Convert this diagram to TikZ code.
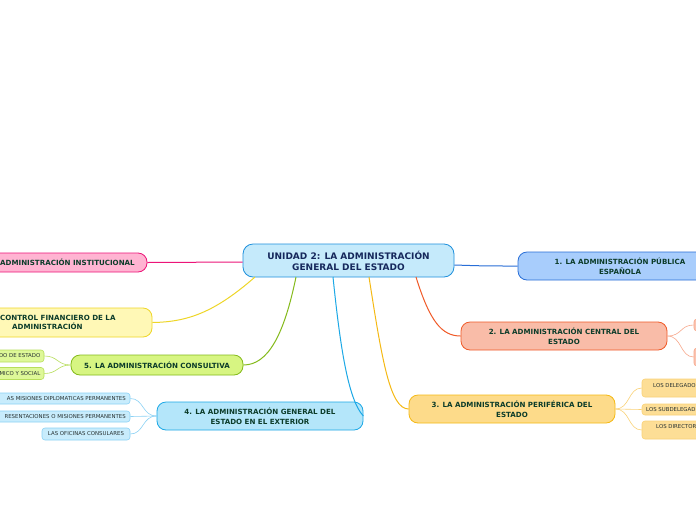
\documentclass[tikz,border=0pt]{standalone}
\usepackage{fontspec}
\setmainfont{DejaVu Sans}
\definecolor{cenfill}{RGB}{197,234,251}
\definecolor{cendraw}{RGB}{30,144,220}
\definecolor{centext}{RGB}{22,40,92}
\definecolor{btext}{RGB}{12,60,42}
\definecolor{stext}{RGB}{40,50,50}
\definecolor{pinkfill}{RGB}{255,180,210}
\definecolor{pinkdraw}{RGB}{236,20,120}
\definecolor{yelfill}{RGB}{255,248,182}
\definecolor{yeldraw}{RGB}{238,214,40}
\definecolor{grnfill}{RGB}{215,245,130}
\definecolor{grndraw}{RGB}{132,186,26}
\definecolor{grnsfill}{RGB}{222,248,152}
\definecolor{grnsdraw}{RGB}{184,222,92}
\definecolor{bl4fill}{RGB}{180,230,250}
\definecolor{bl4draw}{RGB}{28,168,230}
\definecolor{bl4sfill}{RGB}{200,236,252}
\definecolor{bl4sdraw}{RGB}{140,210,245}
\definecolor{bl1fill}{RGB}{168,205,252}
\definecolor{bl1draw}{RGB}{40,110,215}
\definecolor{orfill}{RGB}{249,188,168}
\definecolor{ordraw}{RGB}{240,90,40}
\definecolor{orsfill}{RGB}{250,196,178}
\definecolor{orsdraw}{RGB}{248,168,140}
\definecolor{amfill}{RGB}{253,219,138}
\definecolor{amdraw}{RGB}{245,185,20}
\definecolor{amsfill}{RGB}{253,222,150}
\definecolor{amsdraw}{RGB}{250,210,120}
\begin{document}
\begin{tikzpicture}[x=1pt,y=-1pt,
  bigbox/.style={draw, line width=0.8pt, rounded corners=10pt, align=center, inner sep=0pt},
  branch/.style={draw, line width=0.8pt, rounded corners=9pt, align=center, inner sep=0pt,
     minimum height=28pt, text=btext, font=\bfseries\fontsize{7.1}{9.6}\selectfont},
  sub/.style={draw, line width=0.6pt, rounded corners=3pt, align=center, inner sep=0pt,
     text=stext, font=\fontsize{5.4}{6.8}\selectfont},
  btxt/.style={text=btext, font=\bfseries\fontsize{7.1}{9.6}\selectfont, inner sep=0pt},
  stxt/.style={text=stext, font=\fontsize{5.4}{6.8}\selectfont, inner sep=0pt},
  link/.style={line width=1pt},
  slink/.style={line width=0.6pt}]
\useasboundingbox (0,0) rectangle (696,520);
\clip (0,0) rectangle (696,520);
\fill[white] (0,0) rectangle (696,520);

% central
\node[bigbox, fill=cenfill, draw=cendraw, text=centext, minimum width=211pt, minimum height=33pt,
  font=\bfseries\fontsize{9}{11}\selectfont] (c) at (348.5,260.5)
  {UNIDAD 2: LA ADMINISTRACIÓN\\GENERAL DEL ESTADO};

% branch 1
\node[branch, fill=bl1fill, draw=bl1draw, minimum width=240pt] (b1) at (638,266) {};
\node[btxt, align=center] (b1t) at (620,266) {1. LA ADMINISTRACIÓN PÚBLICA\\ESPAÑOLA};
% branch 2
\node[branch, fill=orfill, draw=ordraw, minimum width=206pt] (b2) at (564,336)
  {2. LA ADMINISTRACIÓN CENTRAL DEL\\ESTADO};
\node[sub, fill=orsfill, draw=orsdraw, minimum width=60pt, minimum height=12pt] (b2a) at (724,325) {};
\node[sub, fill=orsfill, draw=orsdraw, minimum width=60pt, minimum height=18pt] (b2b) at (724,357) {};
% branch 3
\node[branch, fill=amfill, draw=amdraw, minimum width=206pt] (b3) at (512,409)
  {3. LA ADMINISTRACIÓN PERIFÉRICA DEL\\ESTADO};
\node[sub, fill=amsfill, draw=amsdraw, minimum width=90pt, minimum height=18pt] (b3a) at (687,388) {};
\node[stxt, anchor=west] (b3at) at (653,385.5) {LOS DELEGADO};
\node[sub, fill=amsfill, draw=amsdraw, minimum width=90pt, minimum height=11pt] (b3b) at (687,409.5) {};
\node[stxt, anchor=west] (b3bt) at (646,409.5) {LOS SUBDELEGAD};
\node[sub, fill=amsfill, draw=amsdraw, minimum width=90pt, minimum height=18pt] (b3c) at (687,430) {};
\node[stxt, anchor=west] (b3ct) at (656,427) {LOS DIRECTOR};
% branch 4
\node[branch, fill=bl4fill, draw=bl4draw, minimum width=206pt] (b4) at (260,416)
  {4. LA ADMINISTRACIÓN GENERAL DEL\\ESTADO EN EL EXTERIOR};
\node[sub, fill=bl4sfill, draw=bl4sdraw, minimum width=150pt, minimum height=11pt] (b4a) at (55,398.5) {};
\node[stxt, anchor=east] (b4at) at (126,398.5) {AS MISIONES DIPLOMATICAS PERMANENTES};
\node[sub, fill=bl4sfill, draw=bl4sdraw, minimum width=150pt, minimum height=11pt] (b4b) at (55,416.5) {};
\node[stxt, anchor=east] (b4bt) at (126,416.5) {RESENTACIONES O MISIONES PERMANENTES};
\node[sub, fill=bl4sfill, draw=bl4sdraw, minimum width=88pt, minimum height=12pt] (b4c) at (86,434)
  {LAS OFICINAS CONSULARES};
% branch 5
\node[branch, fill=grnfill, draw=grndraw, minimum width=172pt, minimum height=20pt] (b5) at (157,365)
  {5. LA ADMINISTRACIÓN CONSULTIVA};
\node[sub, fill=grnsfill, draw=grnsdraw, minimum width=60pt, minimum height=12pt] (b5a) at (14,356) {};
\node[stxt, anchor=east] (b5at) at (40.5,356) {DO DE ESTADO};
\node[sub, fill=grnsfill, draw=grnsdraw, minimum width=60pt, minimum height=12pt] (b5b) at (14,373.5) {};
\node[stxt, anchor=east] (b5bt) at (40.5,373.5) {MICO Y SOCIAL};
% branch 6
\node[branch, fill=pinkfill, draw=pinkdraw, minimum width=170pt, minimum height=19pt] (b6) at (62,262.5) {};
\node[btxt, anchor=west] (b6t) at (0,262.5) {ADMINISTRACIÓN INSTITUCIONAL};
% branch 7
\node[branch, fill=yelfill, draw=yeldraw, minimum width=190pt, minimum height=29pt] (b7) at (57,322.5) {};
\node[btxt, align=left, anchor=west] (b7t) at (0,322.5) {CONTROL FINANCIERO DE LA\\\hspace*{12pt}ADMINISTRACIÓN};

% main connectors
\draw[link, draw=bl1draw] (c.east |- 0,265) .. controls (485,266) .. (b1.west);
\draw[link, draw=ordraw] (416,277) .. controls (430,322) and (442,336) .. (b2.west);
\draw[link, draw=amdraw] (369,277) .. controls (382,360) and (390,409) .. (b3.west);
\draw[link, draw=bl4draw] (333,277) .. controls (340,345) and (348,400) .. (b4.east);
\draw[link, draw=grndraw] (296,277) .. controls (284,335) and (268,365) .. (b5.east);
\draw[link, draw=pinkdraw] (c.west |- 0,262) -- (b6.east);
\draw[link, draw=yeldraw] (255,277) .. controls (215,312) and (188,322) .. (b7.east);

% sub connectors
\draw[slink, draw=orsdraw] (b2.east) .. controls (682,336) and (680,325) .. (b2a.west);
\draw[slink, draw=orsdraw] (b2.east) .. controls (682,336) and (680,357) .. (b2b.west);
\draw[slink, draw=amsdraw] (b3.east) .. controls (630,409) and (628,388) .. (b3a.west);
\draw[slink, draw=amsdraw] (b3.east) -- (b3b.west);
\draw[slink, draw=amsdraw] (b3.east) .. controls (630,409) and (628,430) .. (b3c.west);
\draw[slink, draw=bl4sdraw] (b4.west) .. controls (142,416) and (144,398.5) .. (b4a.east);
\draw[slink, draw=bl4sdraw] (b4.west) -- (b4b.east);
\draw[slink, draw=bl4sdraw] (b4.west) .. controls (142,416) and (144,434) .. (b4c.east);
\draw[slink, draw=grnsdraw] (b5.west) .. controls (57,365) and (58,356) .. (b5a.east);
\draw[slink, draw=grnsdraw] (b5.west) .. controls (57,365) and (58,373.5) .. (b5b.east);
\end{tikzpicture}
\end{document}
